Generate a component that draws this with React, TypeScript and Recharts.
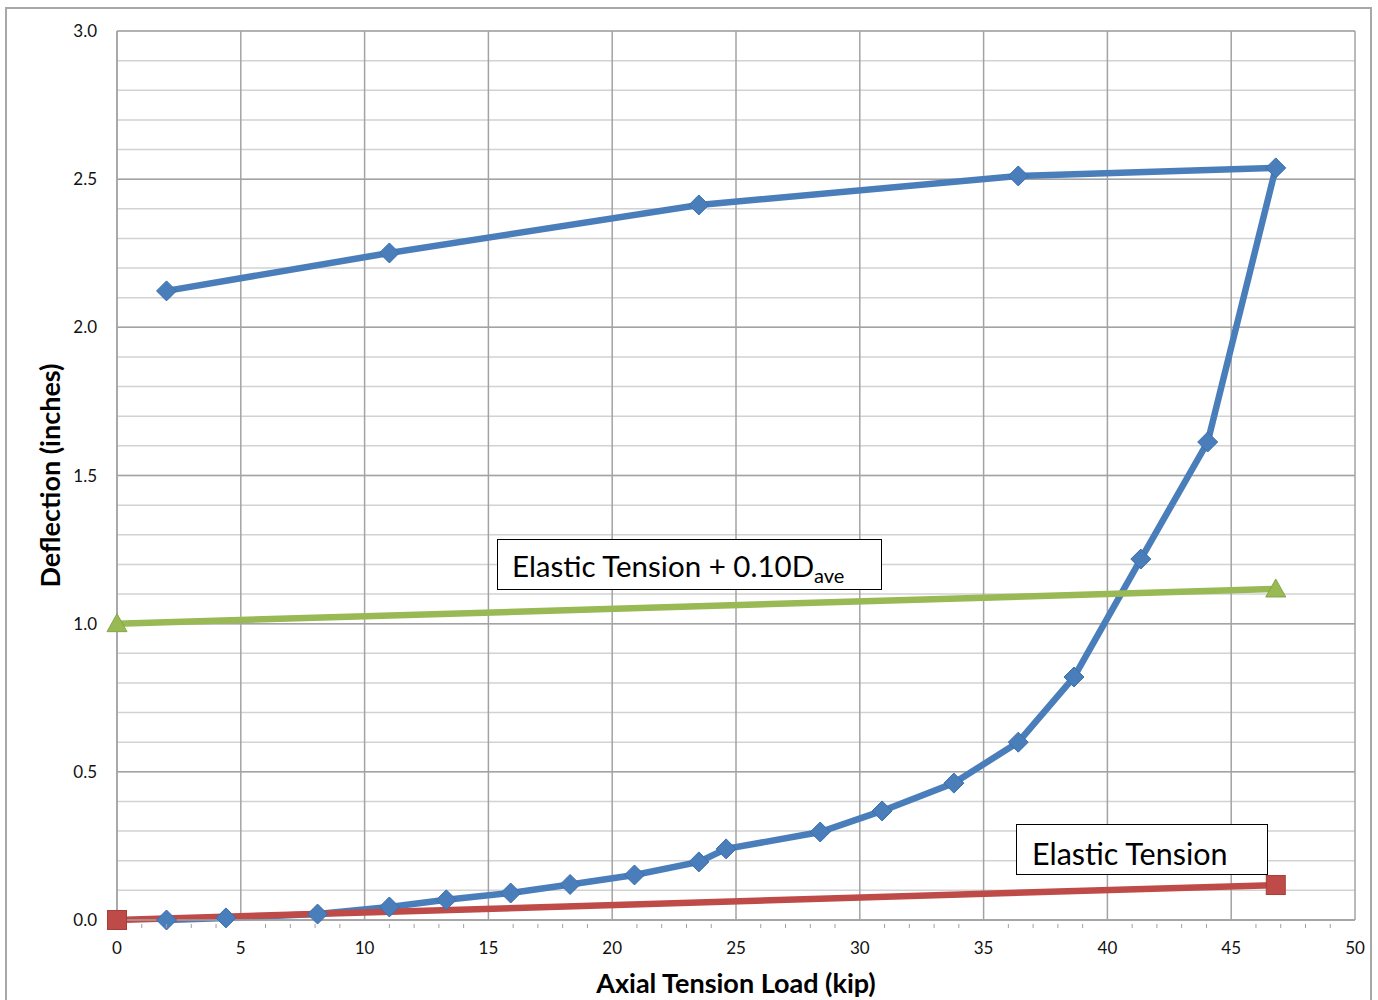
import React from "react";
import {
  LineChart,
  Line,
  XAxis,
  YAxis,
  CartesianGrid,
  Label,
} from "recharts";

// measured load / deflection loop (goes up the curve, then back along the top)
const measured = [
  { load: 2.0, defl: 0.0 },
  { load: 4.4, defl: 0.007 },
  { load: 8.1, defl: 0.02 },
  { load: 11.0, defl: 0.044 },
  { load: 13.3, defl: 0.068 },
  { load: 15.9, defl: 0.091 },
  { load: 18.3, defl: 0.12 },
  { load: 20.9, defl: 0.152 },
  { load: 23.5, defl: 0.196 },
  { load: 24.6, defl: 0.24 },
  { load: 28.4, defl: 0.297 },
  { load: 30.9, defl: 0.368 },
  { load: 33.8, defl: 0.462 },
  { load: 36.4, defl: 0.6 },
  { load: 38.65, defl: 0.82 },
  { load: 41.35, defl: 1.218 },
  { load: 44.05, defl: 1.613 },
  { load: 46.8, defl: 2.538 },
  { load: 36.4, defl: 2.511 },
  { load: 23.5, defl: 2.413 },
  { load: 11.0, defl: 2.251 },
  { load: 2.0, defl: 2.123 },
];

const elastic = [
  { load: 0, defl: 0.0 },
  { load: 46.8, defl: 0.118 },
];

const elasticPlus = [
  { load: 0, defl: 1.0 },
  { load: 46.8, defl: 1.117 },
];

const xTicks = Array.from({ length: 51 }, (_, i) => i);
const xMajor = [0, 5, 10, 15, 20, 25, 30, 35, 40, 45, 50];
const yTicks = [0, 0.5, 1.0, 1.5, 2.0, 2.5, 3.0];
const yMinor = Array.from({ length: 31 }, (_, i) => Math.round(i * 10) / 100);

const BLUE = "#4a7ebb";
const RED = "#be4b48";
const GREEN = "#98b954";
const FONT = "Lato, 'Open Sans', sans-serif";

const Diamond = (props: any) => {
  const { cx, cy, index } = props;
  if (cx == null || cy == null) return <g key={`d${index}`} />;
  const r = 10;
  return (
    <path
      key={`d${index}`}
      d={`M${cx},${cy - r} L${cx + r},${cy} L${cx},${cy + r} L${cx - r},${cy} Z`}
      fill={BLUE}
      stroke="#3a6fae"
      strokeWidth={1}
    />
  );
};

const Square = (props: any) => {
  const { cx, cy, index } = props;
  if (cx == null || cy == null) return <g key={`s${index}`} />;
  const r = 9.5;
  return (
    <rect
      key={`s${index}`}
      x={cx - r}
      y={cy - r}
      width={r * 2}
      height={r * 2}
      fill={RED}
      stroke="#a83c39"
      strokeWidth={1}
    />
  );
};

const Triangle = (props: any) => {
  const { cx, cy, index } = props;
  if (cx == null || cy == null) return <g key={`t${index}`} />;
  const r = 10;
  return (
    <path
      key={`t${index}`}
      d={`M${cx},${cy - r} L${cx + r},${cy + r * 0.8} L${cx - r},${cy + r * 0.8} Z`}
      fill={GREEN}
      stroke="#86a646"
      strokeWidth={1}
    />
  );
};

const XTick = (props: any) => {
  const { x, y, payload } = props;
  const v = payload.value;
  const major = v % 5 === 0;
  return (
    <g>
      {!major && <line x1={x} x2={x} y1={y - 4} y2={y} stroke="#a0a0a0" strokeWidth={1} />}
      {major && (
        <text x={x} y={y + 26} textAnchor="middle" fontSize={17} fill="#111" fontFamily={FONT}>
          {v}
        </text>
      )}
    </g>
  );
};

export default function App() {
  return (
    <div style={{ position: "absolute", left: 0, top: 0, width: 1378, height: 1000, background: "#fff" }}>
      <div
        style={{
          position: "absolute",
          left: 5,
          top: 7,
          width: 1367,
          height: 1000,
          border: "2px solid #a8a8a8",
          boxSizing: "border-box",
        }}
      />
      <LineChart
        width={1378}
        height={1000}
        margin={{ top: 31, right: 23, bottom: 50, left: 37 }}
        style={{ position: "absolute", left: 0, top: 0 }}
      >
        <CartesianGrid
          horizontalValues={yMinor}
          vertical={false}
          stroke="#d2d2d2"
          strokeWidth={1.5}
        />
        <CartesianGrid
          horizontalValues={yTicks}
          verticalValues={xMajor}
          stroke="#a3a3a3"
          strokeWidth={1.5}
        />
        <XAxis
          type="number"
          dataKey="load"
          domain={[0, 50]}
          ticks={xTicks}
          interval={0}
          tick={<XTick />}
          tickLine={false}
          axisLine={{ stroke: "#a3a3a3", strokeWidth: 1.5 }}
          height={30}
          allowDuplicatedCategory={false}
        >
          <Label
            value="Axial Tension Load (kip)"
            position="insideBottom"
            offset={-43}
            style={{ fontSize: 27, fontWeight: 700, fill: "#000", fontFamily: FONT }}
          />
        </XAxis>
        <YAxis
          type="number"
          dataKey="defl"
          domain={[0, 3]}
          ticks={yTicks}
          interval={0}
          width={80}
          tickLine={false}
          tickMargin={14}
          tickFormatter={(v: number) => v.toFixed(1)}
          tick={{ fontSize: 17, fill: "#111", fontFamily: FONT }}
          axisLine={{ stroke: "#a3a3a3", strokeWidth: 1.5 }}
        >
          <Label
            value="Deflection (inches)"
            angle={-90}
            position="insideLeft"
            offset={13}
            style={{ fontSize: 27, fontWeight: 700, fill: "#000", fontFamily: FONT, textAnchor: "middle" }}
          />
        </YAxis>
        <Line
          data={measured}
          type="linear"
          dataKey="defl"
          stroke={BLUE}
          strokeWidth={6.5}
          dot={Diamond}
          activeDot={false}
          isAnimationActive={false}
        />
        <Line
          data={elasticPlus}
          type="linear"
          dataKey="defl"
          stroke={GREEN}
          strokeWidth={6.5}
          dot={Triangle}
          activeDot={false}
          isAnimationActive={false}
        />
        <Line
          data={elastic}
          type="linear"
          dataKey="defl"
          stroke={RED}
          strokeWidth={6.5}
          dot={Square}
          activeDot={false}
          isAnimationActive={false}
        />
      </LineChart>
      <div
        style={{
          position: "absolute",
          left: 497,
          top: 539,
          width: 385,
          height: 51,
          border: "1.5px solid #000",
          background: "#fff",
          boxSizing: "border-box",
          fontFamily: FONT,
          fontSize: 29.5,
          paddingLeft: 14,
          lineHeight: "52px",
          color: "#000",
          whiteSpace: "nowrap",
        }}
      >
        Elastic Tension + 0.10D<sub style={{ fontSize: 20, verticalAlign: "-6px" }}>ave</sub>
      </div>
      <div
        style={{
          position: "absolute",
          left: 1016,
          top: 824,
          width: 252,
          height: 51,
          border: "1.5px solid #000",
          background: "#fff",
          boxSizing: "border-box",
          fontFamily: FONT,
          fontSize: 30.5,
          paddingLeft: 15,
          lineHeight: "56px",
          color: "#000",
          whiteSpace: "nowrap",
        }}
      >
        Elastic Tension
      </div>
    </div>
  );
}
